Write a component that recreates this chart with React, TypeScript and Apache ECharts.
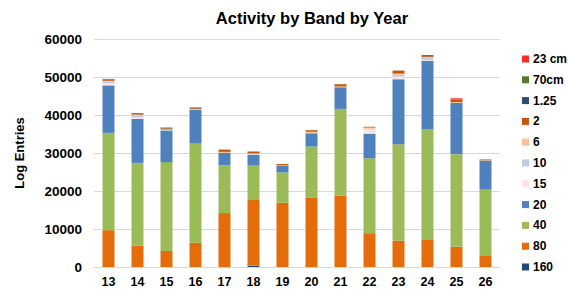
import React, { useEffect, useRef } from "react";
import * as echarts from "echarts";

const years = ["13", "14", "15", "16", "17", "18", "19", "20", "21", "22", "23", "24", "25", "26"];
// stacked bottom-up
const band160 = [0, 0, 0, 0, 0, 300, 0, 0, 0, 0, 0, 0, 0, 0];
const band80 = [9700, 5600, 4200, 6400, 14200, 17300, 16900, 18200, 18800, 8900, 6900, 7300, 5300, 2900];
const band40 = [25600, 21800, 23400, 26200, 12600, 9100, 8000, 13500, 22800, 19700, 25400, 29000, 24400, 17600];
const band20 = [12500, 11600, 8300, 8800, 3200, 2800, 1800, 3500, 5700, 6500, 17100, 18000, 13500, 7500];
const band15 = [600, 400, 0, 0, 0, 100, 0, 100, 0, 1100, 700, 200, 0, 0];
const band10 = [300, 500, 200, 200, 0, 300, 0, 0, 0, 200, 500, 500, 0, 0];
const band6 = [300, 200, 100, 0, 300, 0, 100, 300, 200, 300, 300, 300, 200, 100];
const band2 = [400, 400, 300, 200, 600, 500, 300, 400, 600, 200, 800, 500, 700, 200];
const band125 = [0, 0, 0, 0, 0, 0, 0, 0, 0, 0, 0, 0, 0, 0];
const band70cm = [100, 0, 200, 200, 0, 0, 0, 0, 0, 0, 0, 0, 0, 0];
const band23cm = [0, 0, 0, 0, 0, 0, 0, 0, 0, 0, 0, 0, 300, 0];

const seriesDefs = [
  { name: "160", data: band160, color: "#1F497D" },
  { name: "80", data: band80, color: "#E46C0A" },
  { name: "40", data: band40, color: "#9BBB59" },
  { name: "20", data: band20, color: "#4F81BD" },
  { name: "15", data: band15, color: "#FCE4E6" },
  { name: "10", data: band10, color: "#B8CCE4" },
  { name: "6", data: band6, color: "#FAC090" },
  { name: "2", data: band2, color: "#C0580E" },
  { name: "1.25", data: band125, color: "#2C4D75" },
  { name: "70cm", data: band70cm, color: "#5F7530" },
  { name: "23 cm", data: band23cm, color: "#FF2A2A" },
];

const legendOrder = ["23 cm", "70cm", "1.25", "2", "6", "10", "15", "20", "40", "80", "160"];

export default function App() {
  const ref = useRef<HTMLDivElement>(null);
  useEffect(() => {
    if (!ref.current) return;
    const chart = echarts.init(ref.current, null, { renderer: "svg" });
    chart.setOption({
      animation: false,
      textStyle: { fontFamily: "Liberation Sans, Arial, sans-serif" },
      title: {
        text: "Activity by Band by Year",
        left: 307,
        top: 4,
        textAlign: "center",
        textStyle: { fontSize: 16.5, fontWeight: "bold", color: "#000" },
      },
      legend: {
        orient: "vertical",
        left: 517,
        top: 47,
        itemWidth: 7,
        itemHeight: 7,
        itemGap: 6.8,
        icon: "rect",
        data: legendOrder,
        textStyle: { fontSize: 12, fontWeight: "bold", color: "#000", lineHeight: 14, padding: [0, 0, 0, -1] },
      },
      grid: { left: 94, right: 68, top: 39, bottom: 22 },
      xAxis: {
        type: "category",
        data: years,
        axisTick: { show: false },
        axisLine: { lineStyle: { color: "#D9D9D9" } },
        axisLabel: { fontSize: 12.5, fontWeight: "bold", color: "#000", margin: 8 },
      },
      yAxis: {
        type: "value",
        min: 0,
        max: 60000,
        interval: 10000,
        name: "Log Entries",
        nameLocation: "middle",
        nameGap: 68,
        nameTextStyle: { fontSize: 13, fontWeight: "bold", color: "#000" },
        axisLabel: { fontSize: 13.5, fontWeight: "bold", color: "#000", margin: 12, formatter: (v: number) => String(v) },
        splitLine: { lineStyle: { color: "#D9D9D9" } },
      },
      series: seriesDefs.map((s) => ({
        name: s.name,
        type: "bar",
        stack: "total",
        barWidth: 12,
        data: s.data,
        itemStyle: { color: s.color },
      })),
    });
    return () => chart.dispose();
  }, []);
  return <div ref={ref} style={{ width: 568, height: 289, position: "absolute", left: 0, top: 0 }} />;
}
